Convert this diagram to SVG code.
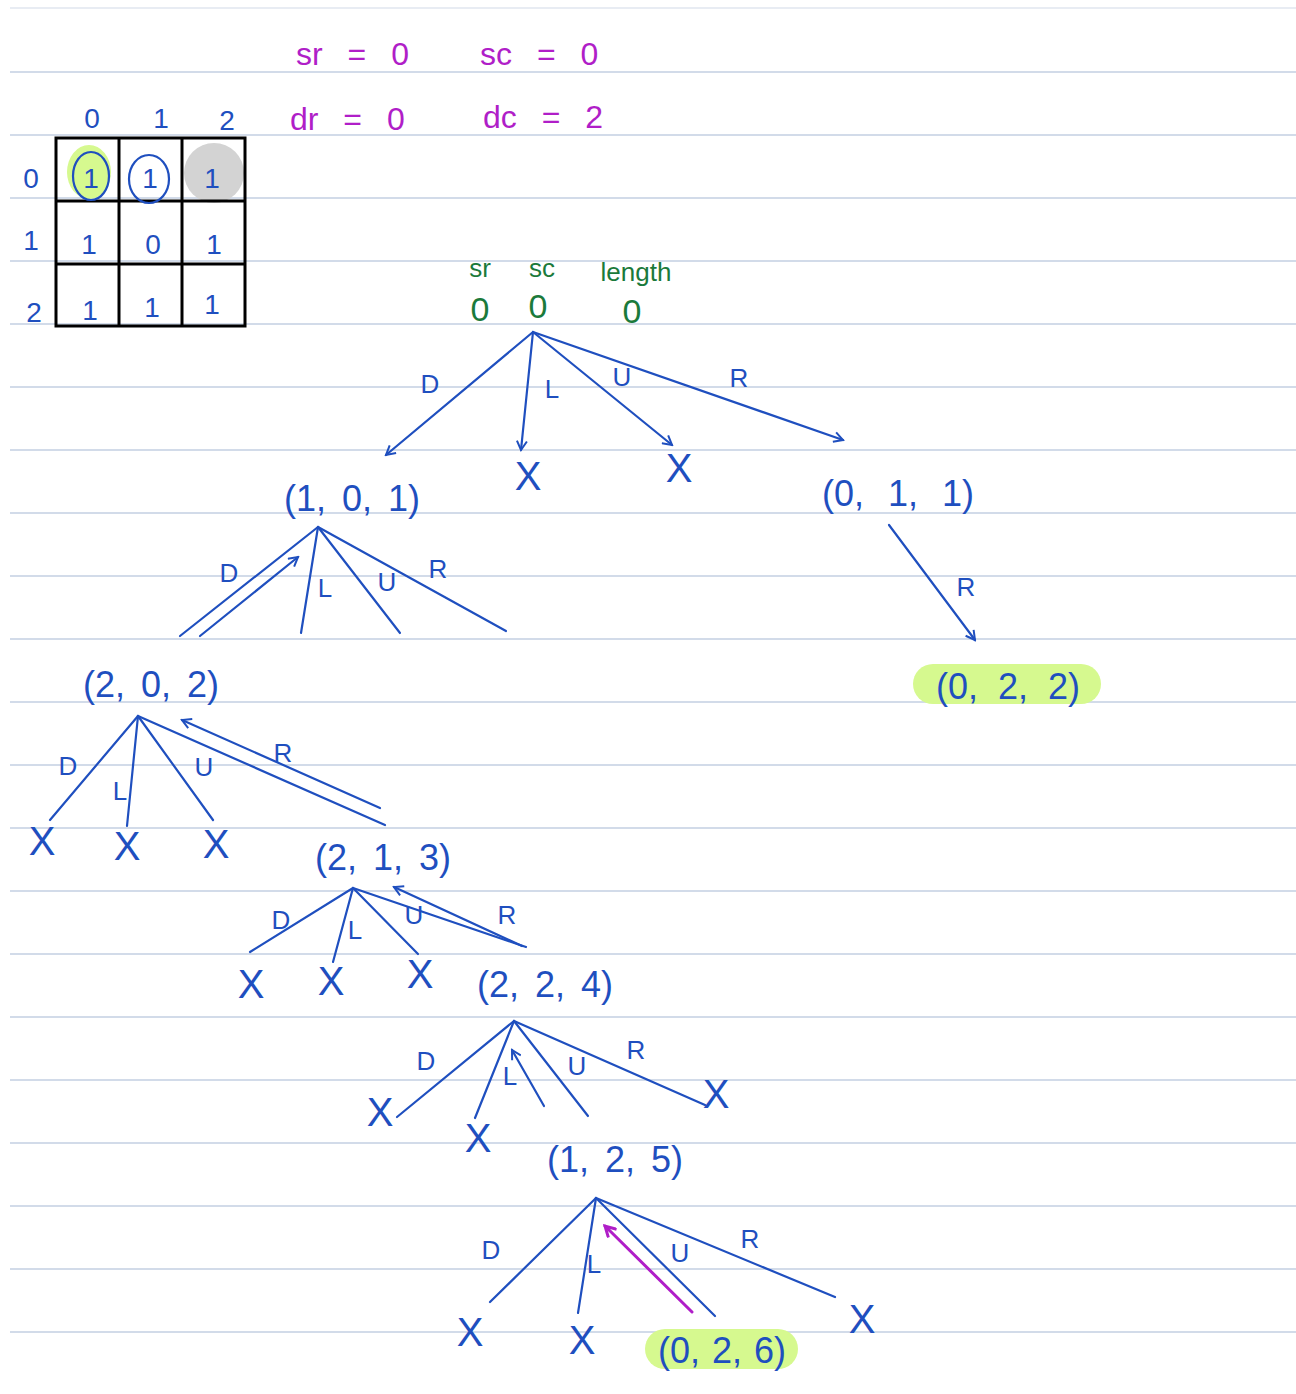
<svg xmlns="http://www.w3.org/2000/svg" width="1296" height="1394" viewBox="0 0 1296 1394">
<defs>
<style>
.rule{stroke:#c3cfe2;stroke-width:1.3}
.grid{fill:none;stroke:#000;stroke-width:3}
.b{fill:#1f4fbf;font-family:"Liberation Sans",Arial,sans-serif}
.p{fill:#b01ec8;font-family:"Liberation Sans",Arial,sans-serif;font-size:32px;word-spacing:16px}
.g{fill:#1b7a3b;font-family:"Liberation Sans",Arial,sans-serif}
.e{stroke:#1f4fbf;stroke-width:2.2;fill:none;stroke-linecap:round}
.ea{stroke:#1f4fbf;stroke-width:2.2;fill:none;stroke-linecap:round;marker-end:url(#ah)}
.node{font-size:36px;word-spacing:6px}
.lbl{font-size:26px}
.x{font-size:40px}
.hl{fill:#d6f98f}
</style>
<marker id="ah" viewBox="0 0 12 12" refX="10" refY="6" markerWidth="12" markerHeight="12" markerUnits="userSpaceOnUse" orient="auto">
<path d="M1,1 L10,6 L1,11" fill="none" stroke="#1f4fbf" stroke-width="2"/>
</marker>
<marker id="ahp" viewBox="0 0 12 12" refX="10" refY="6" markerWidth="14" markerHeight="14" markerUnits="userSpaceOnUse" orient="auto">
<path d="M1,1 L10,6 L1,11" fill="none" stroke="#b01ec8" stroke-width="2.5"/>
</marker>
</defs>
<rect width="1296" height="1394" fill="#fff"/>
<g id="rules">
<line class="rule" x1="10" y1="8" x2="1296" y2="8" opacity="0.5"/>
<line class="rule" x1="10" y1="72" x2="1296" y2="72"/>
<line class="rule" x1="10" y1="135" x2="1296" y2="135"/>
<line class="rule" x1="10" y1="198" x2="1296" y2="198"/>
<line class="rule" x1="10" y1="261" x2="1296" y2="261"/>
<line class="rule" x1="10" y1="324" x2="1296" y2="324"/>
<line class="rule" x1="10" y1="387" x2="1296" y2="387"/>
<line class="rule" x1="10" y1="450" x2="1296" y2="450"/>
<line class="rule" x1="10" y1="513" x2="1296" y2="513"/>
<line class="rule" x1="10" y1="576" x2="1296" y2="576"/>
<line class="rule" x1="10" y1="639" x2="1296" y2="639"/>
<line class="rule" x1="10" y1="702" x2="1296" y2="702"/>
<line class="rule" x1="10" y1="765" x2="1296" y2="765"/>
<line class="rule" x1="10" y1="828" x2="1296" y2="828"/>
<line class="rule" x1="10" y1="891" x2="1296" y2="891"/>
<line class="rule" x1="10" y1="954" x2="1296" y2="954"/>
<line class="rule" x1="10" y1="1017" x2="1296" y2="1017"/>
<line class="rule" x1="10" y1="1080" x2="1296" y2="1080"/>
<line class="rule" x1="10" y1="1143" x2="1296" y2="1143"/>
<line class="rule" x1="10" y1="1206" x2="1296" y2="1206"/>
<line class="rule" x1="10" y1="1269" x2="1296" y2="1269"/>
<line class="rule" x1="10" y1="1332" x2="1296" y2="1332"/>
</g>
<g id="matrix">
<ellipse cx="89" cy="172" rx="22" ry="27" class="hl"/>
<circle cx="214" cy="173" r="30" fill="#d3d3d3"/>
<rect class="grid" x="56" y="138" width="189" height="188"/>
<line class="grid" x1="119" y1="138" x2="119" y2="326"/>
<line class="grid" x1="182" y1="138" x2="182" y2="326"/>
<line class="grid" x1="56" y1="201" x2="245" y2="201"/>
<line class="grid" x1="56" y1="264" x2="245" y2="264"/>
<ellipse cx="91" cy="176" rx="18" ry="24" fill="none" stroke="#1f4fbf" stroke-width="2.2"/>
<ellipse cx="149" cy="179" rx="20" ry="24" fill="none" stroke="#1f4fbf" stroke-width="2.2"/>
<g class="b" font-size="28" text-anchor="middle">
<text x="92" y="128">0</text><text x="161" y="128">1</text><text x="227" y="130">2</text>
<text x="31" y="188">0</text><text x="31" y="250">1</text><text x="34" y="322">2</text>
<text x="91" y="188">1</text><text x="150" y="188">1</text><text x="212" y="188">1</text>
<text x="89" y="254">1</text><text x="153" y="254">0</text><text x="214" y="254">1</text>
<text x="90" y="320">1</text><text x="152" y="317">1</text><text x="212" y="314">1</text>
</g>
</g>
<g id="params">
<text class="p" x="296" y="65">sr = 0</text>
<text class="p" x="480" y="65">sc = 0</text>
<text class="p" x="290" y="130">dr = 0</text>
<text class="p" x="483" y="128">dc = 2</text>
</g>
<g id="connectors">
<line class="ea" x1="533" y1="332" x2="386" y2="455"/>
<line class="ea" x1="533" y1="332" x2="521" y2="450"/>
<line class="ea" x1="533" y1="332" x2="672" y2="445"/>
<line class="ea" x1="533" y1="332" x2="843" y2="440"/>
<line class="ea" x1="889" y1="525" x2="975" y2="640"/>
<line class="e" x1="318" y1="527" x2="180" y2="636"/>
<line class="ea" x1="200" y1="636" x2="298" y2="557"/>
<line class="e" x1="318" y1="527" x2="301" y2="633"/>
<line class="e" x1="318" y1="527" x2="400" y2="633"/>
<line class="e" x1="318" y1="527" x2="506" y2="631"/>
<line class="e" x1="138" y1="716" x2="50" y2="820"/>
<line class="e" x1="138" y1="716" x2="127" y2="826"/>
<line class="e" x1="138" y1="716" x2="213" y2="820"/>
<line class="e" x1="138" y1="716" x2="385" y2="825"/>
<line class="ea" x1="380" y1="808" x2="182" y2="720"/>
<line class="e" x1="353" y1="888" x2="250" y2="952"/>
<line class="e" x1="353" y1="888" x2="333" y2="962"/>
<line class="e" x1="353" y1="888" x2="418" y2="954"/>
<line class="e" x1="353" y1="888" x2="526" y2="947"/>
<line class="ea" x1="522" y1="946" x2="394" y2="887"/>
<line class="e" x1="514" y1="1021" x2="397" y2="1117"/>
<line class="e" x1="514" y1="1021" x2="475" y2="1118"/>
<line class="e" x1="514" y1="1021" x2="588" y2="1116"/>
<line class="e" x1="514" y1="1021" x2="705" y2="1105"/>
<line class="ea" x1="544" y1="1106" x2="512" y2="1050"/>
<line class="e" x1="596" y1="1198" x2="490" y2="1302"/>
<line class="e" x1="596" y1="1198" x2="578" y2="1313"/>
<line class="e" x1="596" y1="1198" x2="715" y2="1316"/>
<line class="e" x1="596" y1="1198" x2="835" y2="1297"/>
<line x1="692" y1="1312" x2="605" y2="1226" stroke="#b01ec8" stroke-width="3" stroke-linecap="round" marker-end="url(#ahp)"/>
</g>
<g id="edge-labels" class="b lbl" text-anchor="middle">
<text x="430" y="393">D</text><text x="552" y="398">L</text><text x="622" y="386">U</text><text x="739" y="387">R</text>
<text x="966" y="596">R</text>
<text x="229" y="582">D</text><text x="325" y="597">L</text><text x="387" y="591">U</text><text x="438" y="578">R</text>
<text x="68" y="775">D</text><text x="120" y="800">L</text><text x="204" y="776">U</text><text x="283" y="762">R</text>
<text x="281" y="929">D</text><text x="355" y="939">L</text><text x="414" y="924">U</text><text x="507" y="924">R</text>
<text x="426" y="1070">D</text><text x="510" y="1085">L</text><text x="577" y="1075">U</text><text x="636" y="1059">R</text>
<text x="491" y="1259">D</text><text x="594" y="1273">L</text><text x="680" y="1262">U</text><text x="750" y="1248">R</text>
</g>
<g id="root">
<g class="g" font-size="26" text-anchor="middle">
<text x="480" y="277">sr</text><text x="542" y="277">sc</text><text x="636" y="281">length</text>
</g>
<g class="g" font-size="34" text-anchor="middle">
<text x="480" y="321">0</text><text x="538" y="318">0</text><text x="632" y="323">0</text>
</g>
</g>
<g id="n-x1"><text class="b x" x="528" y="490" text-anchor="middle">X</text></g>
<g id="n-x2"><text class="b x" x="679" y="482" text-anchor="middle">X</text></g>
<g id="n-101"><text class="b node" x="352" y="511" text-anchor="middle" font-size="38">(1, 0, 1)</text></g>
<g id="n-011"><text class="b node" x="898" y="506" text-anchor="middle" font-size="44" style="word-spacing:14px">(0, 1, 1)</text></g>
<g id="n-022">
<rect x="913" y="664" width="188" height="40" rx="20" class="hl"/>
<text class="b node" x="1008" y="699" text-anchor="middle" font-size="44" style="word-spacing:10px">(0, 2, 2)</text>
</g>
<g id="n-202"><text class="b node" x="151" y="697" text-anchor="middle" font-size="38">(2, 0, 2)</text></g>
<g id="n-x3"><text class="b x" x="42" y="855" text-anchor="middle">X</text></g>
<g id="n-x4"><text class="b x" x="127" y="860" text-anchor="middle">X</text></g>
<g id="n-x5"><text class="b x" x="216" y="858" text-anchor="middle">X</text></g>
<g id="n-213"><text class="b node" x="383" y="870" text-anchor="middle">(2, 1, 3)</text></g>
<g id="n-x6"><text class="b x" x="251" y="998" text-anchor="middle">X</text></g>
<g id="n-x7"><text class="b x" x="331" y="995" text-anchor="middle">X</text></g>
<g id="n-x8"><text class="b x" x="420" y="988" text-anchor="middle">X</text></g>
<g id="n-224"><text class="b node" x="545" y="997" text-anchor="middle" font-size="38">(2, 2, 4)</text></g>
<g id="n-x9"><text class="b x" x="380" y="1126" text-anchor="middle">X</text></g>
<g id="n-x10"><text class="b x" x="478" y="1152" text-anchor="middle">X</text></g>
<g id="n-x11"><text class="b x" x="716" y="1108" text-anchor="middle">X</text></g>
<g id="n-125"><text class="b node" x="615" y="1172" text-anchor="middle">(1, 2, 5)</text></g>
<g id="n-x12"><text class="b x" x="470" y="1346" text-anchor="middle">X</text></g>
<g id="n-x13"><text class="b x" x="582" y="1354" text-anchor="middle">X</text></g>
<g id="n-x14"><text class="b x" x="862" y="1333" text-anchor="middle">X</text></g>
<g id="n-026">
<rect x="645" y="1329" width="153" height="40" rx="20" class="hl"/>
<text class="b node" x="722" y="1363" text-anchor="middle" style="word-spacing:2px">(0, 2, 6)</text>
</g>
</svg>
